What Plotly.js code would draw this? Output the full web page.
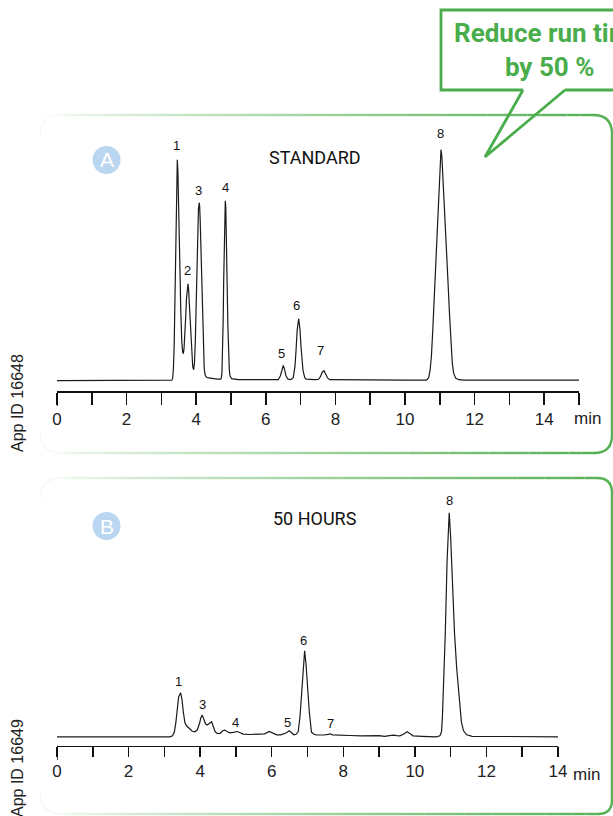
<!DOCTYPE html>
<html>
<head>
<meta charset="utf-8">
<script src="https://cdn.plot.ly/plotly-3.0.1.min.js"></script>
<style>html,body{margin:0;padding:0;background:#fff;}#chart{width:613px;height:816px;}</style>
</head>
<body>
<div id="chart"></div>
<script>
// ---------- DATA ----------
// Panel A: STANDARD chromatogram (time in min, signal in arbitrary units)
const timeA = [0, 3.0, 3.30, 3.322, 3.345, 3.367, 3.39, 3.412, 3.435, 3.457, 3.475, 3.49, 3.505, 3.522, 3.54, 3.555, 3.57, 3.587, 3.61, 3.629,
  3.65, 3.68, 3.70, 3.72, 3.745, 3.764, 3.78, 3.80, 3.83, 3.85, 3.87, 3.90, 3.928,
  3.95, 3.975, 4.00, 4.02, 4.04, 4.065, 4.089, 4.10, 4.115, 4.13, 4.15, 4.17, 4.19, 4.21, 4.23, 4.25, 4.27, 4.32, 4.45, 4.60, 4.70,
  4.72, 4.74, 4.76, 4.775, 4.79, 4.80, 4.815, 4.836, 4.85, 4.86, 4.875, 4.89, 4.91, 4.93, 4.95, 4.97, 5.02, 5.20, 6.00,
  6.36, 6.42, 6.46, 6.503, 6.54, 6.58, 6.64, 6.72,
  6.79, 6.84, 6.87, 6.90, 6.945, 6.98, 7.01, 7.03, 7.07, 7.12, 7.16,
  7.40, 7.51, 7.57, 7.62, 7.672, 7.72, 7.78, 7.84, 8.5, 10.0,
  10.62, 10.68, 10.72, 10.76, 10.80, 10.85, 10.90, 10.95, 11.00, 11.034,
  11.06, 11.10, 11.13, 11.18, 11.23, 11.28, 11.32, 11.36, 11.40, 11.46, 11.55, 11.70, 13.0, 15.0];
const signalA = [0, 0, 0.5, 2, 12, 35, 80, 134, 190, 221, 208, 188, 160, 130, 100, 72, 52, 38, 29, 27,
  32, 48, 65, 82, 94, 97, 92, 78, 52, 35, 23, 14, 11,
  18, 40, 75, 110, 145, 172, 178, 174, 160, 138, 105, 72, 45, 25, 13, 7, 4.5, 3, 2, 1.5, 1.5,
  2.5, 8, 30, 60, 100, 125, 160, 180, 174, 160, 130, 95, 55, 28, 12, 5, 2, 1, 1,
  1, 5, 11, 15.4, 11, 5, 1.5, 1,
  3, 15, 31, 50, 62, 52, 35, 25, 10, 3, 1.5,
  1, 1.2, 4, 8.5, 10, 6.5, 2.5, 1, 0.7, 0.6,
  0.6, 3, 10, 25, 52, 90, 130, 170, 215, 231,
  224, 198, 176, 140, 103, 66, 38, 17, 7, 2.5, 1, 0.6, 0.5, 0.5];

// Panel B: 50 HOURS chromatogram
const timeB = [0, 1.05, 1.10, 1.20, 3.15, 3.23, 3.28, 3.32, 3.36, 3.40, 3.455, 3.49, 3.53, 3.575, 3.62, 3.67, 3.715, 3.78, 3.855,
  3.92, 3.98, 4.02, 4.06, 4.10, 4.15, 4.20, 4.26, 4.32, 4.37, 4.42, 4.48, 4.56, 4.63, 4.69, 4.76, 4.83, 4.92, 5.04, 5.12, 5.20,
  5.40, 5.67, 5.80, 5.93, 6.03, 6.14, 6.25, 6.32, 6.40, 6.49, 6.56, 6.62, 6.68, 6.74,
  6.79, 6.835, 6.87, 6.92, 6.96, 7.01, 7.05, 7.11, 7.18, 7.25, 7.45, 7.58, 7.63, 7.70, 7.90, 8.18, 8.50,
  9.00, 9.15, 9.39, 9.50, 9.58, 9.68, 9.785, 9.87, 9.95, 10.2, 10.6,
  10.70, 10.745, 10.77, 10.80, 10.85, 10.90, 10.93, 10.96, 11.00, 11.03, 11.07, 11.109, 11.17, 11.24, 11.30, 11.36, 11.45, 11.6, 12.5, 14.0];
const signalB = [0, 0, -0.6, 0, 0, 1, 5, 14, 28, 40, 44, 38, 25, 14, 11, 9.5, 8, 5.5, 5,
  7, 13, 19, 21.7, 18, 13, 11.7, 13.5, 15, 10, 5, 3.3, 3.5, 6, 6.7, 5, 4, 4.5, 5.3, 4, 2.7,
  2.3, 2.3, 3, 5.3, 4, 2, 2, 2.7, 3.8, 6, 4, 2, 2.5, 5.3,
  20, 45, 68, 86, 72, 45, 25, 4.7, 2.5, 2, 1.8, 2.5, 3, 2, 1.5, 1.3, 1,
  1.2, 0.5, 1.7, 1.2, 1, 2.5, 5, 3, 1, 0.5, 0,
  1, 5, 20, 45, 103, 175, 205, 224, 200, 170, 135, 103, 68, 37, 15, 6, 2, 0.5, 0.3, 0];

const peakLabelsA = ['1', '2', '3', '4', '5', '6', '7', '8'];
const peakTimeA = [3.457, 3.764, 4.089, 4.836, 6.503, 6.945, 7.672, 11.034];
const peakHeightA = [221, 97, 178, 180, 15.4, 62, 10, 231];

const peakLabelsB = ['1', '3', '4', '5', '6', '7', '8'];
const peakTimeB = [3.455, 4.06, 4.99, 6.49, 6.92, 7.63, 10.96];
const peakHeightB = [44, 21.7, 5, 6, 86, 3, 224];

const tickValsA = [0, 1, 2, 3, 4, 5, 6, 7, 8, 9, 10, 11, 12, 13, 14, 15];
const tickTextA = ['0', '', '2', '', '4', '', '6', '', '8', '', '10', '', '12', '', '14', ''];
const tickValsB = [0, 1, 2, 3, 4, 5, 6, 7, 8, 9, 10, 11, 12, 13, 14];
const tickTextB = ['0', '', '2', '', '4', '', '6', '', '8', '', '10', '', '12', '', '14'];

// ---------- STYLE / LAYOUT ----------
const W = 613, H = 816;
const X = p => p / W;
const Y = p => 1 - p / H;
const GREEN = [86, 176, 84];
const CALLOUT = '#48ad4a';
const FONT = 'Liberation Sans, Arial, Helvetica, sans-serif';
const NARROW = 'Roboto, Liberation Sans, sans-serif';

const shapes = [];
function seg(x0, y0, x1, y1, color, w) {
  shapes.push({type: 'line', xref: 'paper', yref: 'paper', x0: X(x0), y0: Y(y0), x1: X(x1), y1: Y(y1),
    line: {color: color, width: w}, layer: 'below'});
}
function rgba(a) { return 'rgba(' + GREEN[0] + ',' + GREEN[1] + ',' + GREEN[2] + ',' + a.toFixed(3) + ')'; }
function gradH(xFade, xFull, y, n) {
  for (let i = 0; i < n; i++) {
    const a = xFade + (xFull - xFade) * i / n, b = xFade + (xFull - xFade) * (i + 1) / n;
    const f = 0.08 + 0.92 * Math.pow((i + 0.5) / n, 0.85);
    seg(a, y, b, y, rgba(f), 2.4);
  }
}
function pathPx(d, color, w) {
  shapes.push({type: 'path', xref: 'paper', yref: 'paper', path: d, line: {color: color, width: w}, layer: 'below'});
}
function P(x, y) { return X(x).toFixed(5) + ',' + Y(y).toFixed(5); }

// faint left rounded corners of the frames
pathPx('M ' + P(62, 115) + ' Q ' + P(40, 115) + ' ' + P(40, 137), 'rgba(0,0,0,0.035)', 1.5);
pathPx('M ' + P(40, 431) + ' Q ' + P(40, 453) + ' ' + P(62, 453), 'rgba(0,0,0,0.035)', 1.5);
pathPx('M ' + P(62, 478) + ' Q ' + P(40, 478) + ' ' + P(40, 500), 'rgba(0,0,0,0.035)', 1.5);
pathPx('M ' + P(40, 792) + ' Q ' + P(40, 814) + ' ' + P(62, 814), 'rgba(0,0,0,0.035)', 1.5);

// Panel A frame
gradH(62, 594, 115, 40);
pathPx('M ' + P(593, 115) + ' Q ' + P(612, 115) + ' ' + P(612, 134) + ' L ' + P(612, 435) + ' Q ' + P(612, 453) + ' ' + P(594, 453), rgba(1), 2.4);
gradH(62, 595, 453, 40);
// Panel B frame
gradH(62, 598, 478, 40);
pathPx('M ' + P(597, 478) + ' Q ' + P(612, 478) + ' ' + P(612, 493) + ' L ' + P(612, 800) + ' Q ' + P(612, 814) + ' ' + P(598, 814), rgba(1), 2.4);
gradH(62, 599, 814, 40);

// callout
shapes.push({type: 'path', xref: 'paper', yref: 'paper',
  path: 'M ' + P(523, 90) + ' L ' + P(441, 90) + ' L ' + P(441, 10) + ' L ' + P(640, 10) + ' M ' + P(565, 90) + ' L ' + P(640, 90),
  line: {color: CALLOUT, width: 2.8}});
shapes.push({type: 'path', xref: 'paper', yref: 'paper',
  path: 'M ' + P(523, 90) + ' L ' + P(485, 157) + ' L ' + P(565, 90),
  line: {color: CALLOUT, width: 2.8}});

// badges
shapes.push({type: 'circle', xref: 'paper', yref: 'paper', x0: X(92.5), x1: X(120.5), y0: Y(146), y1: Y(174), fillcolor: '#bad6f0', line: {width: 0}});
shapes.push({type: 'circle', xref: 'paper', yref: 'paper', x0: X(92.5), x1: X(120.5), y0: Y(512), y1: Y(540), fillcolor: '#bad6f0', line: {width: 0}});

// longer first ticks
shapes.push({type: 'line', xref: 'x', yref: 'paper', x0: 0, x1: 0, y0: Y(391), y1: Y(406), line: {color: '#111', width: 1.5}});
shapes.push({type: 'line', xref: 'x2', yref: 'paper', x0: 0, x1: 0, y0: Y(745.5), y1: Y(760), line: {color: '#111', width: 1.5}});

const annotations = [];
const shiftA = [[-0.5, 14], [0, 13], [-0.5, 12], [0, 13], [-1.5, 12], [-2, 13], [-3, 20], [0, 16]];
const shiftB = [[-1.7, 11], [0, 11], [0, 9], [-1.6, 8], [-1.4, 10.5], [0, 10], [0, 12]];
peakLabelsA.forEach((t, i) => annotations.push({x: peakTimeA[i], y: peakHeightA[i], xref: 'x', yref: 'y', text: t, showarrow: false,
  xanchor: 'center', yanchor: 'middle', xshift: shiftA[i][0], yshift: shiftA[i][1], font: {family: FONT, size: 13, color: '#111'}}));
peakLabelsB.forEach((t, i) => annotations.push({x: peakTimeB[i], y: peakHeightB[i], xref: 'x2', yref: 'y2', text: t, showarrow: false,
  xanchor: 'center', yanchor: 'middle', xshift: shiftB[i][0], yshift: shiftB[i][1], font: {family: FONT, size: 13, color: '#111'}}));

function paperText(x, y, text, font, extra) {
  annotations.push(Object.assign({x: X(x), y: Y(y), xref: 'paper', yref: 'paper', text: text, showarrow: false,
    xanchor: 'center', yanchor: 'middle', font: font}, extra || {}));
}
paperText(315, 157, 'STANDARD', {family: NARROW, size: 18, color: '#111'});
paperText(315, 518, '50 HOURS', {family: NARROW, size: 18, color: '#111'});
paperText(587, 419, 'min', {family: FONT, size: 17, color: '#222'});
paperText(586, 774, 'min', {family: FONT, size: 17, color: '#222'});
paperText(106.5, 160, 'A', {family: FONT, size: 21, color: '#ffffff'});
paperText(106.5, 526, 'B', {family: FONT, size: 21, color: '#ffffff'});
paperText(17, 403, 'App ID 16648', {family: FONT, size: 16, color: '#222'}, {textangle: -90});
paperText(17, 768, 'App ID 16649', {family: FONT, size: 16, color: '#222'}, {textangle: -90});
paperText(549, 50, '<b>Reduce run time</b><br><b>by 50 %</b>', {family: NARROW, size: 26, color: CALLOUT}, {align: 'center'});

const axisCommon = {showgrid: false, zeroline: false, showline: true, linecolor: '#111', linewidth: 1.5,
  ticks: 'outside', tickcolor: '#111', tickwidth: 1.5, tickmode: 'array', fixedrange: true,
  tickfont: {family: FONT, size: 17, color: '#222'}};

const data = [
  {x: timeA, y: signalA, xaxis: 'x', yaxis: 'y', type: 'scatter', mode: 'lines', line: {color: '#1a1a1a', width: 1.2}, hoverinfo: 'skip'},
  {x: timeB, y: signalB, xaxis: 'x2', yaxis: 'y2', type: 'scatter', mode: 'lines', line: {color: '#1a1a1a', width: 1.2}, hoverinfo: 'skip'}
];

const layout = {
  width: W, height: H, margin: {l: 0, r: 0, t: 0, b: 0}, paper_bgcolor: '#fff', plot_bgcolor: 'rgba(0,0,0,0)',
  showlegend: false,
  xaxis: Object.assign({}, axisCommon, {domain: [X(57), X(579)], range: [0, 15], anchor: 'y', tickvals: tickValsA, ticktext: tickTextA, ticklen: 12}),
  yaxis: {domain: [Y(391), Y(140)], range: [-10.3, 240.7], visible: false, fixedrange: true},
  xaxis2: Object.assign({}, axisCommon, {domain: [X(57), X(558)], range: [0, 14], anchor: 'y2', tickvals: tickValsB, ticktext: tickTextB, ticklen: 10}),
  yaxis2: {domain: [Y(745.5), Y(500)], range: [-8.7, 236.8], visible: false, fixedrange: true},
  shapes: shapes,
  annotations: annotations
};

Plotly.newPlot('chart', data, layout, {staticPlot: true, displayModeBar: false});
</script>
</body>
</html>
